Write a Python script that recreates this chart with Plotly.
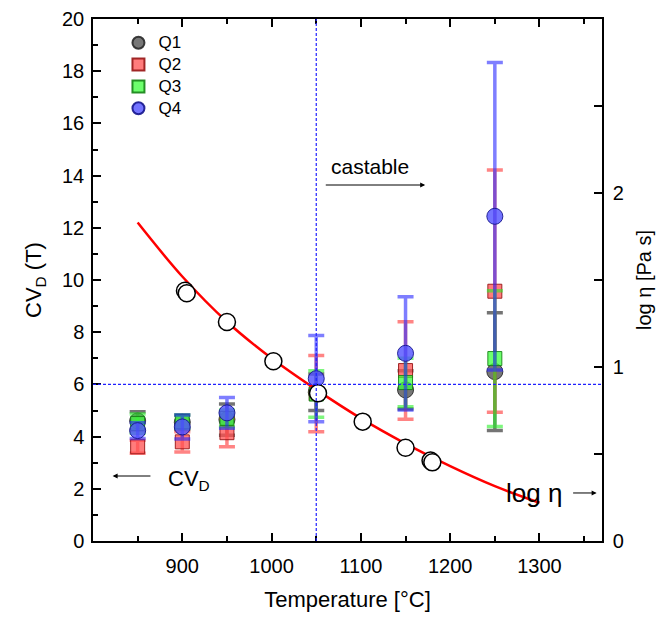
import plotly.graph_objects as go

# ---- data ----
temps = [850, 900, 950, 1050, 1150, 1250]
q1 = [4.60, 4.55, 4.65, 5.70, 5.79, 6.49]
q1_err = [0.35, 0.28, 0.60, 0.70, 0.73, 2.26]
q2 = [3.61, 3.80, 4.15, 5.65, 6.53, 9.57]
q2_err = [0.25, 0.39, 0.54, 1.46, 1.87, 4.64]
q3 = [4.50, 4.57, 4.70, 5.63, 6.07, 6.99]
q3_err = [0.37, 0.26, 0.32, 0.89, 0.93, 2.60]
q4 = [4.23, 4.37, 4.91, 6.22, 7.19, 12.44]
q4_err = [0.30, 0.46, 0.59, 1.65, 2.17, 5.89]

visc_T = [903, 905, 950, 1002, 1052, 1102, 1150, 1178, 1180]
visc_log = [1.438, 1.424, 1.259, 1.033, 0.849, 0.686, 0.536, 0.462, 0.452]

fit_T = [850, 900, 950, 1000, 1050, 1100, 1150, 1200, 1250, 1300]
fit_log = [1.83, 1.52, 1.26, 1.05, 0.87, 0.705, 0.56, 0.43, 0.315, 0.22]

FONT = "Arial, Liberation Sans, sans-serif"

series = [
    ("Q1", q1, q1_err, "circle", "rgba(85,85,85,0.8)", "rgba(40,40,40,0.9)", "rgba(70,70,70,0.75)", 16),
    ("Q2", q2, q2_err, "square", "rgba(255,80,80,0.75)", "rgba(150,20,20,0.9)", "rgba(255,50,50,0.6)", 14),
    ("Q3", q3, q3_err, "square", "rgba(60,255,60,0.75)", "rgba(20,130,20,0.9)", "rgba(40,240,40,0.6)", 14),
    ("Q4", q4, q4_err, "circle", "rgba(80,80,255,0.8)", "rgba(20,20,140,0.9)", "rgba(40,40,255,0.6)", 16),
]

fig = go.Figure()

for name, vals, errs, sym, fill, edge, ecol, size in series:
    fig.add_trace(go.Scatter(
        x=temps, y=vals, mode="markers",
        name=f"<span style='font-size:17px'>{name}</span>",
        marker=dict(symbol=sym, size=size, color=fill, line=dict(color=edge, width=1)),
        error_y=dict(type="data", array=errs, visible=True, color=ecol, thickness=3.5, width=8),
    ))

fig.add_trace(go.Scatter(
    x=fit_T, y=fit_log, mode="lines", yaxis="y2", showlegend=False,
    line=dict(color="red", width=2.5, shape="spline"),
))
fig.add_trace(go.Scatter(
    x=visc_T, y=visc_log, mode="markers", yaxis="y2", showlegend=False,
    marker=dict(symbol="circle", size=17, color="white", line=dict(color="black", width=1.5)),
))

# reference lines
fig.add_shape(type="line", xref="x", yref="paper", x0=1050, x1=1050, y0=0, y1=1,
              line=dict(color="#2020ff", width=1.2, dash="3px,2px"))
fig.add_shape(type="line", xref="paper", yref="y", x0=0, x1=1, y0=6, y1=6,
              line=dict(color="#2020ff", width=1.2, dash="3px,2px"))

# annotations
fig.add_annotation(x=1110, y=14.35, text="castable", showarrow=False,
                   font=dict(family=FONT, size=21, color="black"))
fig.add_annotation(x=1172, y=13.64, ax=1059, ay=13.64, xref="x", yref="y", axref="x", ayref="y",
                   text="", showarrow=True, arrowhead=2, arrowsize=1, arrowwidth=1, arrowcolor="black")
fig.add_annotation(x=822, y=2.49, ax=866, ay=2.49, xref="x", yref="y", axref="x", ayref="y",
                   text="", showarrow=True, arrowhead=2, arrowsize=1, arrowwidth=1, arrowcolor="black")
fig.add_annotation(x=908, y=2.35, text="CV<sub>D</sub>", showarrow=False,
                   font=dict(family=FONT, size=22, color="black"))
fig.add_annotation(x=1294, y=1.84, text="log η", showarrow=False,
                   font=dict(family=FONT, size=26, color="black"))
fig.add_annotation(x=1364, y=1.84, ax=1336, ay=1.84, xref="x", yref="y", axref="x", ayref="y",
                   text="", showarrow=True, arrowhead=2, arrowsize=1, arrowwidth=1, arrowcolor="black")

axis_common = dict(showgrid=False, zeroline=False, showline=True, linecolor="black", linewidth=1.5,
                   ticks="inside", tickcolor="black", ticklen=8, tickwidth=1.5, automargin=False,
                   tickfont=dict(family=FONT, size=20, color="black"))

fig.update_layout(
    width=659, height=619,
    margin=dict(l=93, r=57, t=19, b=78),
    plot_bgcolor="white", paper_bgcolor="white",
    font=dict(family=FONT, color="black"),
    xaxis=dict(range=[800, 1370], tickvals=[900, 1000, 1100, 1200, 1300], mirror="ticks",
               ticklabelstandoff=6,
               minor=dict(tickvals=[850, 950, 1050, 1150, 1250, 1350], ticks="inside", ticklen=5, tickcolor="black", tickwidth=1.5),
               title=dict(text="Temperature [°C]", font=dict(family=FONT, size=22), standoff=16),
               **axis_common),
    yaxis=dict(range=[0, 20], dtick=2, mirror=True, ticklabelstandoff=3,
               minor=dict(dtick=1, ticks="inside", ticklen=5, tickcolor="black", tickwidth=1.5),
               title=dict(text="CV<sub>D</sub> (T)", font=dict(family=FONT, size=22), standoff=14),
               **axis_common),
    yaxis2=dict(range=[0, 3], tickvals=[0, 1, 2], overlaying="y", side="right", anchor="x",
                ticklabelstandoff=5,
                minor=dict(tickvals=[0.5, 1.5, 2.5], ticks="inside", ticklen=8, tickcolor="black", tickwidth=1.5),
                title=dict(text="log η [Pa s]", font=dict(family=FONT, size=20), standoff=14),
                **axis_common),
    legend=dict(x=0.05, y=0.985, xanchor="left", yanchor="top", bgcolor="rgba(0,0,0,0)",
                font=dict(family=FONT, size=14.5, color="black"), tracegroupgap=0, itemsizing="constant"),
    showlegend=True,
)

fig.write_html("out.html", config={"displayModeBar": False},
               post_script="document.body.style.margin='0';document.body.style.overflow='hidden';")
